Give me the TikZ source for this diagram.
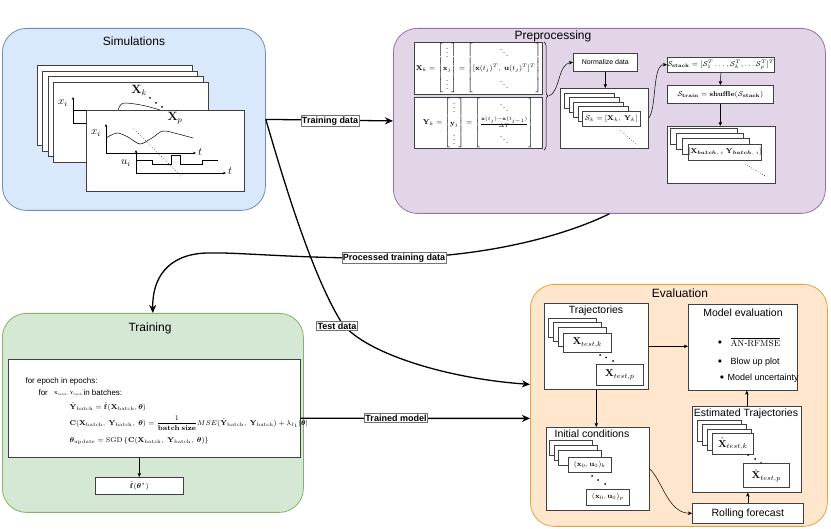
\documentclass[tikz,border=0pt]{standalone}
\usepackage{amsmath,amssymb}
\usepackage[no-math]{fontspec}
\setmainfont{Liberation Sans}
\setsansfont{Liberation Sans}
\usetikzlibrary{arrows.meta,decorations.pathreplacing,calc}
\definecolor{simF}{HTML}{DAE8FC}\definecolor{simD}{HTML}{6C8EBF}
\definecolor{preF}{HTML}{E1D5E7}\definecolor{preD}{HTML}{9673A6}
\definecolor{trF}{HTML}{D5E8D4}\definecolor{trD}{HTML}{82B366}
\definecolor{evF}{HTML}{FFE6CC}\definecolor{evD}{HTML}{E0A63A}
\newcommand\fsz[1]{\fontsize{#1}{#1}\selectfont}
\tikzset{
 cont/.style={rounded corners=24pt, line width=0.8pt, inner sep=0pt, anchor=north west},
 wbox/.style={draw=black!75, fill=white, line width=0.6pt, inner sep=0pt, anchor=north west},
 ttl/.style={font=\fsz{12}},
 ttlb/.style={font=\fsz{10.5}},
 lbl/.style={draw=black!55, fill=white, font=\bfseries\fsz{9}, inner sep=1.2pt, line width=0.5pt},
 big/.style={line width=1.3pt, -{Stealth[length=8pt,width=7pt,inset=2.5pt]}},
 sm/.style={line width=0.5pt, -{Stealth[length=4pt,width=3.5pt,inset=1pt]}},
 ax/.style={line width=0.5pt, -{Stealth[length=3pt,width=2.5pt]}},
 dotc/.style={fill=black, circle, inner sep=0pt, minimum size=2pt},
 thinl/.style={line width=0.5pt},
}
\begin{document}
\begin{tikzpicture}[x=1pt,y=-1pt]
\useasboundingbox (0,0) rectangle (831,529);

% ---------- containers ----------
\node[cont, fill=simF, draw=simD, minimum width=263pt, minimum height=182pt] (sim) at (2,28) {};
\node[cont, fill=preF, draw=preD, minimum width=432pt, minimum height=185pt] (pre) at (393,28) {};
\node[cont, fill=trF, draw=trD, minimum width=301pt, minimum height=199pt] (tr) at (2,313) {};
\node[cont, fill=evF, draw=evD, minimum width=297pt, minimum height=242pt] (ev) at (530,284) {};

\node[ttl] (simT) at (134,41) {Simulations};
\node[ttl] (preT) at (553,36) {Preprocessing};
\node[ttl] (trT) at (150,328) {Training};
\node[ttl] (evT) at (680,293) {Evaluation};

% ---------- Simulations ----------
\foreach \i in {0,1,2}{
  \node[wbox, minimum width=155pt, minimum height=80pt] (ss\i) at ({37+5.3*\i},{65+5.7*\i}) {};
}
\node[wbox, minimum width=155pt, minimum height=80pt] (simk) at (53,82) {};
\node[font=\fsz{11}] (xik) at (63,103) {$x_i$};
\draw[ax] (73,123) -- (73,97);
\draw[thinl] (73,110) -- (86,110);
\draw[thinl] (73,123) -- (86,123);
\draw[thinl] (118,110) .. controls (120,104) and (122,103) .. (126,103) .. controls (140,104) and (150,107) .. (160,110);
\node[font=\fsz{12}] (Xk) at (139,90) {$\mathbf{X}_k$};
\node[dotc] (dk1) at (150,98) {};
\node[dotc] (dk2) at (156,103) {};
\node[dotc] (dk3) at (162,107) {};

\node[wbox, minimum width=158pt, minimum height=81pt] (simp) at (86,110) {};
\node[font=\fsz{12}] (Xp) at (175,118) {$\mathbf{X}_p$};
\node[font=\fsz{11}] (xip) at (96,133) {$x_i$};
\draw[ax] (106,153) -- (106,124);
\draw[ax] (106,153) -- (196,153);
\node[font=\fsz{11}] (t1) at (200,152) {$t$};
\draw[thinl] plot[smooth] coordinates {(106,138) (117,133) (128,137) (140,144) (152,138) (163,131) (178,134) (193,138)};
\draw[thinl, dotted] (133,128) -- (182,177);
\node[font=\fsz{11}] (ui) at (126,163) {$u_i$};
\draw[ax] (136,173) -- (136,150);
\draw[ax] (136,173) -- (226,173);
\node[font=\fsz{11}] (t2) at (230,171) {$t$};
\draw[thinl] (136,160) -- (152,160) -- (152,164) -- (171,164) -- (171,155) -- (180,155) -- (180,164) -- (202,164) -- (202,160) -- (218,160);

% ---------- Preprocessing ----------
\node[wbox, minimum width=128pt, minimum height=52pt, font=\fsz{7.5}] (xkb) at (414,42)
  {$\renewcommand\arraystretch{1.8}\mathbf{X}_k = \begin{bmatrix}\vdots\\ \mathbf{x}_j\\ \vdots\end{bmatrix} = \begin{bmatrix}\ddots\\ [\mathbf{x}(t_j)^T,\ \mathbf{u}(t_j)^T]^T\\ \ddots\end{bmatrix}$};
\node[wbox, minimum width=128pt, minimum height=51pt, font=\fsz{7.5}] (ykb) at (414,97)
  {$\renewcommand\arraystretch{1.75}\mathbf{Y}_k = \begin{bmatrix}\vdots\\ \mathbf{y}_j\\ \vdots\end{bmatrix} = \begin{bmatrix}\ddots\\ \frac{\mathbf{x}(t_j)-\mathbf{x}(t_{j-1})}{\Delta T}\\ \ddots\end{bmatrix}$};
\draw[decorate, decoration={brace, amplitude=4pt}, line width=0.5pt] (544,42) -- (544,150);
\coordinate (bt) at (549,96);

\node[wbox, minimum width=64pt, minimum height=18pt, font=\fsz{7}] (nd) at (573,53) {Normalize data};
\node[wbox, minimum width=88pt, minimum height=60pt] (skc) at (560,88) {};
\foreach \i in {0,1,2,3}{
  \node[wbox, minimum width=50pt, minimum height=15pt] (sks\i) at ({564+4.5*\i},{93+4.5*\i}) {};
}
\node[wbox, minimum width=58pt, minimum height=15pt, font=\fsz{7.5}] (skf) at (582,111) {$\mathcal{S}_k = [\mathbf{X}_k,\ \mathbf{Y}_k]$};
\draw[thinl, dotted] (620,130) -- (638,146);

\node[wbox, minimum width=106pt, minimum height=15pt, font=\fsz{7.5}] (sst) at (667,57)
  {$\mathcal{S}_{\mathbf{stack}} = [\mathcal{S}_1^T \ldots, \mathcal{S}_k^T, \ldots \mathcal{S}_p^T]^T$};
\node[wbox, minimum width=106pt, minimum height=18pt, font=\fsz{7.5}] (str) at (667,85)
  {$\mathcal{S}_{\mathbf{train}} = \mathbf{shuffle}(\mathcal{S}_{\mathbf{stack}})$};
\node[wbox, minimum width=108pt, minimum height=57pt] (bc) at (667,126) {};
\foreach \i in {0,1,2}{
  \node[wbox, minimum width=67pt, minimum height=16pt] (bcs\i) at ({670+6*\i},{128+5*\i}) {};
}
\node[wbox, minimum width=67pt, minimum height=16pt, font=\fsz{7.5}] (bcf) at (688,144)
  {$[\mathbf{X}_{\boldsymbol{batch},\ i}\ \mathbf{Y}_{\boldsymbol{batch},\ i}]$};
\draw[thinl, dotted] (745,164) -- (767,177);

\draw[sm] (bt) .. controls (560,92) and (558,64) .. (nd.west);
\draw[sm] (nd.south) -- (nd.south |- skc.north);
\draw[sm] (skc.east) .. controls (657,108) and (652,64) .. (sst.west);
\draw[sm] (sst.south) -- (str.north);
\draw[sm] (str.south) -- (str.south |- bc.north);

% ---------- Training ----------
\node[wbox, minimum width=292pt, minimum height=98pt] (fb) at (8,359) {};
\node[anchor=west, font=\fsz{8}] (l1) at (22,381) {for epoch in epochs:};
\node[anchor=west, font=\fsz{8}] (l2a) at (35,393) {for};
\node[anchor=west, font=\fsz{8}, inner sep=0pt, scale=0.5] (l2b) at (54,394) {$\mathbf{X}_{\mathrm{batch}},\ \mathbf{Y}_{\mathrm{batch}}$};
\node[anchor=west, font=\fsz{8}] (l2c) at (80,393) {in batches:};
\node[anchor=west, font=\fsz{7.5}] (l3) at (66,407) {$\hat{\mathbf{Y}}_{\mathrm{batch}} = \hat{\mathbf{f}}(\mathbf{X}_{\mathrm{batch}}, \boldsymbol{\theta})$};
\node[anchor=west, font=\fsz{7.3}] (l4) at (66,423) {$\mathbf{C}(\mathbf{X}_{\mathrm{batch}},\ \mathbf{Y}_{\mathrm{batch}},\ \boldsymbol{\theta}) = \dfrac{1}{\mathbf{batch\ size}} MSE(\hat{\mathbf{Y}}_{\mathrm{batch}},\ \mathbf{Y}_{\mathrm{batch}}) + \lambda_{\ell_1}|\boldsymbol{\theta}|$};
\node[anchor=west, font=\fsz{7.5}] (l5) at (66,441) {$\boldsymbol{\theta}_{\mathrm{update}} = \mathrm{SGD}\left\{\mathbf{C}(\mathbf{X}_{\mathrm{batch}},\ \mathbf{Y}_{\mathrm{batch}},\ \boldsymbol{\theta})\right\}$};
\node[wbox, minimum width=88pt, minimum height=17pt, font=\fsz{7.5}] (fo) at (95,477) {$\hat{\mathbf{f}}(\boldsymbol{\theta}^{*})$};
\draw[sm] (fo.north |- fb.south) -- (fo.north);

% ---------- Evaluation ----------
\node[wbox, minimum width=104pt, minimum height=86pt] (traj) at (544,303) {};
\node[ttlb] (trajT) at (596,311) {Trajectories};
\foreach \i in {0,1,2}{
  \node[wbox, minimum width=48pt, minimum height=19pt] (trs\i) at ({548+5*\i},{318+4.5*\i}) {};
}
\node[wbox, minimum width=48pt, minimum height=19pt, font=\fsz{10}] (trk) at (563,333) {$\mathbf{X}_{test,k}$};
\node[dotc] (td1) at (600,355) {};
\node[dotc] (td2) at (606,357.5) {};
\node[dotc] (td3) at (613,361) {};
\node[wbox, minimum width=47pt, minimum height=21pt, font=\fsz{10}] (trp) at (596,364) {$\mathbf{X}_{test,p}$};

\node[wbox, minimum width=109pt, minimum height=86pt] (me) at (688,304) {};
\node[ttlb] (meT) at (743,313) {Model evaluation};
\node[font=\fsz{8}] (b1) at (720,343) {$\bullet$};
\node[font=\fsz{9}, anchor=west] (b1t) at (727,342) {$\overline{\mathrm{AN\mbox{-}RFMSE}}$};
\node[font=\fsz{8}] (b2) at (720,362) {$\bullet$};
\node[font=\fsz{9}, anchor=west] (b2t) at (727,362) {Blow up plot};
\node[font=\fsz{8}] (b3) at (722,378) {$\bullet$};
\node[font=\fsz{9}, anchor=west] (b3t) at (724,378) {Model uncertainty};

\node[wbox, minimum width=103pt, minimum height=83pt] (ic) at (546,427) {};
\node[ttlb] (icT) at (592,434) {Initial conditions};
\foreach \i in {0,1,2}{
  \node[wbox, minimum width=43pt, minimum height=15pt] (ics\i) at ({549+4.5*\i},{440+5*\i}) {};
}
\node[wbox, minimum width=43pt, minimum height=15pt, font=\fsz{7.5}] (ick) at (568,457) {$(\mathbf{x}_0, \mathbf{u}_0)_k$};
\node[dotc] (id1) at (592,476) {};
\node[dotc] (id2) at (598,480) {};
\node[dotc] (id3) at (605,484) {};
\node[wbox, minimum width=43pt, minimum height=16pt, font=\fsz{7.5}] (icp) at (586,489) {$(\mathbf{x}_0, \mathbf{u}_0)_p$};

\node[wbox, minimum width=109pt, minimum height=86pt] (et) at (692,406) {};
\node[ttlb] (etT) at (746,414) {Estimated Trajectories};
\foreach \i in {0,1,2}{
  \node[wbox, minimum width=44pt, minimum height=21pt] (ets\i) at ({697+5*\i},{420+4.5*\i}) {};
}
\node[wbox, minimum width=41pt, minimum height=21pt, font=\fsz{10}] (etk) at (712,433) {$\hat{\mathbf{X}}_{test,k}$};
\node[dotc] (ed1) at (748,455) {};
\node[dotc] (ed2) at (755,459) {};
\node[dotc] (ed3) at (761,463) {};
\node[wbox, minimum width=46pt, minimum height=24pt, font=\fsz{10}] (etp) at (743,463) {$\hat{\mathbf{X}}_{test,p}$};

\node[wbox, minimum width=111pt, minimum height=20pt, font=\fsz{10.5}] (rf) at (692,503) {Rolling forecast};

\draw[sm] (traj.east) -- (traj.east -| me.west);
\draw[sm] (traj.south) -- (traj.south |- ic.north);
\draw[sm] (ic.east) .. controls (662,480) and (668,513) .. (rf.west);
\draw[sm] (rf.north) -- (rf.north |- et.south);
\draw[sm] (et.north) -- (et.north |- me.south);

% ---------- main connectors ----------
\path (ev.west) ++(0,-21) coordinate (evTD);
\path (fb.east) ++(0,10) coordinate (fbE);
\path (ev.west) ++(0,13) coordinate (evTM);

\draw[big] (sim.east) -- (pre.west);
\draw[big] (sim.east) .. controls (282,175) and (310,270) .. (340,320) .. controls (358,350) and (440,378) .. (evTD);
\draw[big] (pre.south) .. controls (560,238) and (480,257) .. (394,258) .. controls (300,259) and (240,252) .. (207,253) .. controls (168,254) and (152,278) .. (tr.north);
\draw[big] (fbE) -- (evTM);

\node[lbl] (lTD) at (330,121) {Training data};
\node[lbl] (lTe) at (337,326) {Test data};
\node[lbl] (lPT) at (394,258) {Processed training data};
\node[lbl] (lTM) at (396,418) {Trained model};
\end{tikzpicture}
\end{document}
